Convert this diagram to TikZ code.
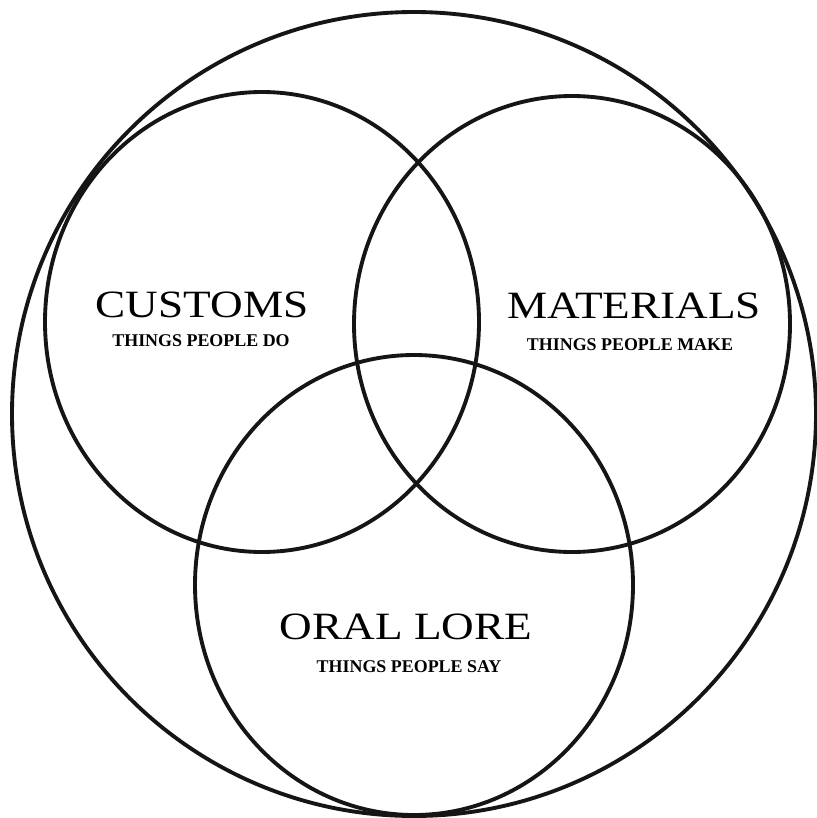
\documentclass[tikz,border=0pt]{standalone}
\usepackage{fontspec}
\setmainfont{Liberation Serif}
\newfontfamily\widefont[FakeStretch=1.17]{Liberation Serif}
\definecolor{inkline}{HTML}{151515}

\begin{document}
\begin{tikzpicture}[x=0.02cm, y=-0.02cm,
    ring/.style={draw=inkline, line width=2.2pt},
    title/.style={font=\widefont\fontsize{22}{24}\selectfont, inner sep=0pt},
    tagline/.style={font=\bfseries\fontsize{10.2}{11}\selectfont, inner sep=0pt}]
    \useasboundingbox (0,0) rectangle (816,818);
    \fill[white] (0,0) rectangle (816,818);
    % outer ring and the three sets
    \draw[ring] (414,414) circle[radius=402];
    \draw[ring] (262,322) ellipse[x radius=217, y radius=230];
    \draw[ring] (572,324) ellipse[x radius=218, y radius=228];
    \draw[ring] (414,585) ellipse[x radius=219, y radius=230];
    % labels
    \node[title] (customs) at (202,305) {CUSTOMS};
    \node[tagline] (customsdo) at (201,341) {THINGS PEOPLE DO};
    \node[title] (materials) at (634,306) {MATERIALS};
    \node[tagline] (materialsmake) at (630,345) {THINGS PEOPLE MAKE};
    \node[title] (orallore) at (406,627) {ORAL LORE};
    \node[tagline] (lorsay) at (409,667) {THINGS PEOPLE SAY};
\end{tikzpicture}
\end{document}
